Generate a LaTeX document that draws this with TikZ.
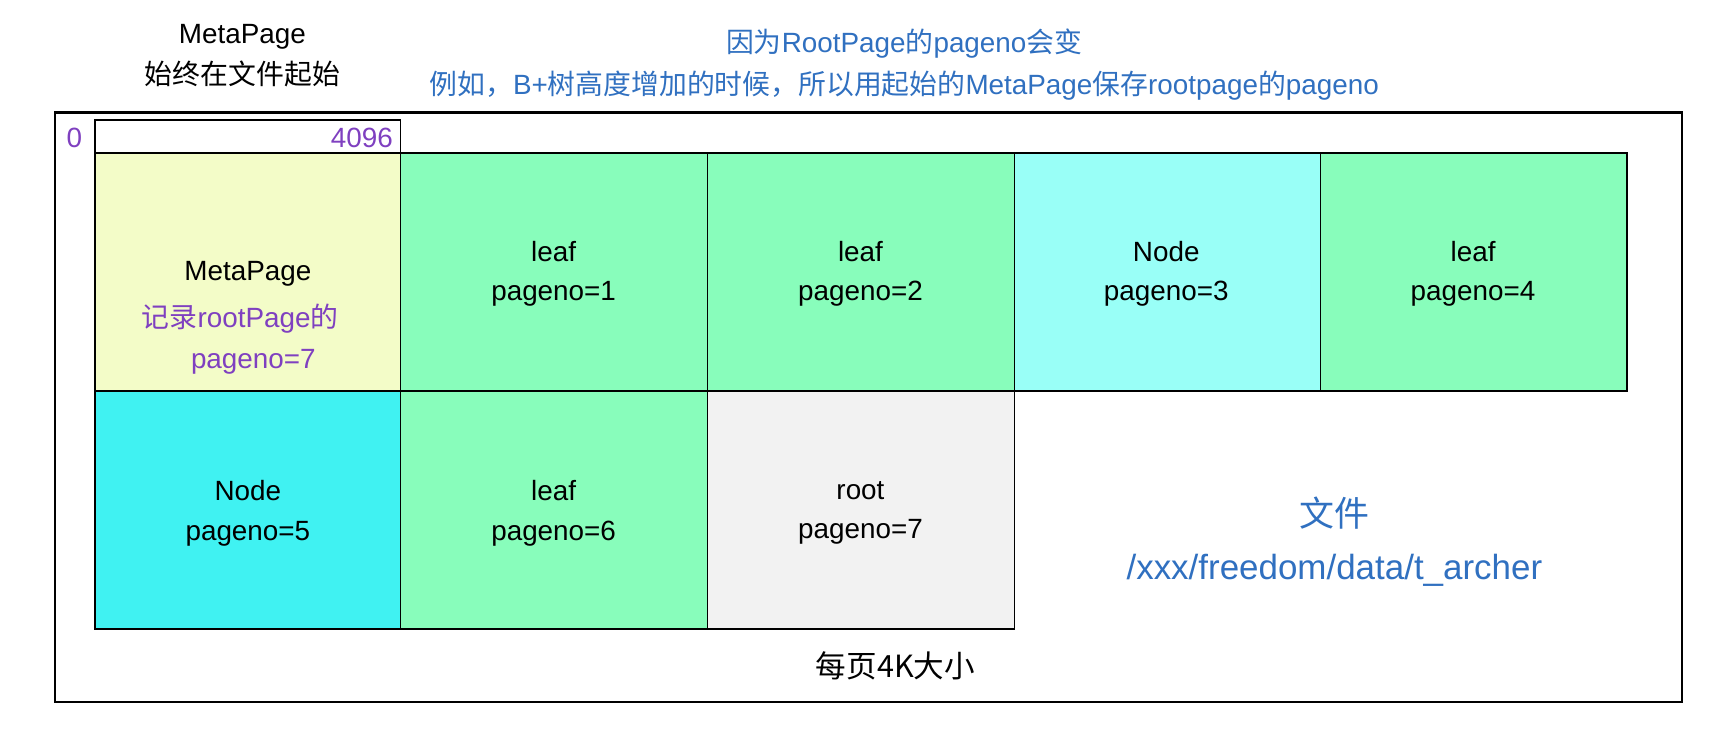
\documentclass[tikz,border=0pt]{standalone}
\usepackage{fontspec}
\setmainfont{Liberation Sans}
\newfontfamily\cjk{Noto Sans CJK SC}
\definecolor{gr}{HTML}{88FDBB}
\definecolor{cy}{HTML}{99FFF7}
\definecolor{cyd}{HTML}{40F2F2}
\definecolor{mp}{HTML}{F3FCC8}
\definecolor{rt}{HTML}{F2F2F2}
\definecolor{pu}{HTML}{7F40C0}
\definecolor{bl}{HTML}{3070C0}
\begin{document}
\begin{tikzpicture}[x=1pt,y=-1pt,
 cell/.style={draw=black,line width=1.2pt},
 txt/.style={font=\fontsize{25.5}{36}\selectfont,align=center,inner sep=0}]
\useasboundingbox (0,0) rectangle (1566,667);
\draw[line width=2pt] (50,103) rectangle (1540,643);
\draw[line width=1.2pt] (87,110) rectangle (367,140);
\node[txt,text=pu,anchor=east] (n4096) at (360,126) {4096};
\node[txt,text=pu] (n0) at (68,126) {0};
\foreach \x/\y/\c/\nm in {87/140/mp/a,367/140/gr/b,648/140/gr/c,929/140/cy/d,1209/140/gr/e,87/358/cyd/f,367/358/gr/g,648/358/rt/h}
  \filldraw[cell,fill=\c] (\x,\y) rectangle ++(281,218);
\node[txt] (m) at (227,251) {MetaPage};
\node[txt,text=pu] (m2) at (220,292) {{\cjk 记录}rootPage{\cjk 的}};
\node[txt,text=pu] (m3) at (232,331) {pageno=7};
\node[txt] at (507,251) {leaf\\pageno=1};
\node[txt] at (788,251) {leaf\\pageno=2};
\node[txt] at (1068,251) {Node\\pageno=3};
\node[txt] at (1349,251) {leaf\\pageno=4};
\node[txt] at (227,470) {Node\\pageno=5};
\node[txt] at (507,470) {leaf\\pageno=6};
\node[txt] at (788,470) {root\\pageno=7};
\node[txt,font=\fontsize{25.5}{38}\selectfont] at (222,51) {MetaPage\\{\cjk 始终在文件起始}};
\node[txt,text=bl,font=\fontsize{25.5}{38}\selectfont] at (828,59) {{\cjk 因为}RootPage{\cjk 的}pageno{\cjk 会变}\\{\cjk 例如，}B+{\cjk 树高度增加的时候，所以用起始的}MetaPage{\cjk 保存}rootpage{\cjk 的}pageno};
\node[txt,font=\fontsize{28}{30}\selectfont\cjk] at (820,610) {每页4K大小};
\node[txt,text=bl,font=\fontsize{32}{48}\selectfont] at (1222,496) {{\cjk 文件}\\/xxx/freedom/data/t\_archer};
\end{tikzpicture}
\end{document}
